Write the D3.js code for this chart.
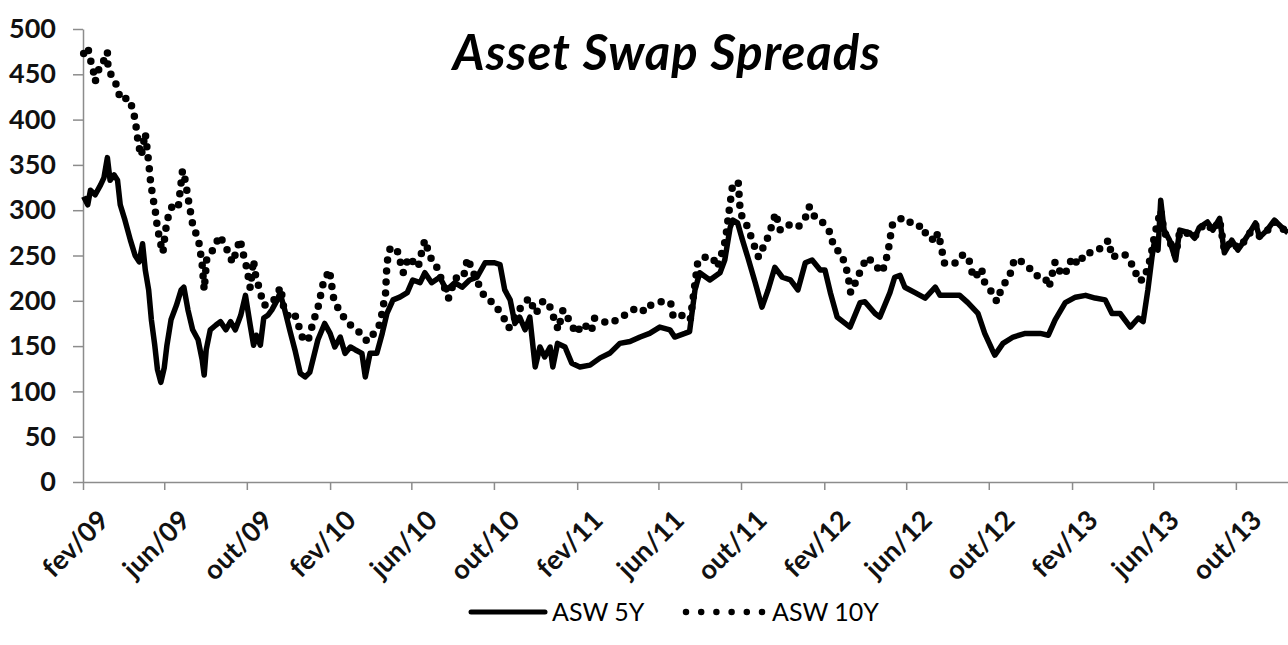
<!DOCTYPE html>
<html>
<head>
<meta charset="utf-8">
<script src="https://cdn.jsdelivr.net/npm/d3@7.9.0/dist/d3.min.js"></script>
<style>
  body { margin: 0; background: #fff; }
  svg { display: block; }
  .axis path, .axis line { stroke: #8c8c8c; stroke-width: 1.5; }
  .axis text { font-family: Lato, "Open Sans", sans-serif; font-weight: bold; fill: #111; }
</style>
</head>
<body>
<svg width="1288" height="645"></svg>
<script>
// ASW 5Y (solid line)
const asw5Dates = [
  "2009-02-02","2009-02-08","2009-02-12","2009-02-19","2009-02-27","2009-03-04","2009-03-09","2009-03-13",
  "2009-03-19","2009-03-24","2009-03-28","2009-04-04","2009-04-12","2009-04-19","2009-04-25","2009-04-30",
  "2009-05-04","2009-05-09","2009-05-13","2009-05-18","2009-05-22","2009-05-27","2009-06-01","2009-06-05",
  "2009-06-11","2009-06-19","2009-06-26","2009-06-30","2009-07-06","2009-07-13","2009-07-21","2009-07-27",
  "2009-07-30","2009-08-02","2009-08-08","2009-08-16","2009-08-23","2009-08-31","2009-09-07","2009-09-14",
  "2009-09-22","2009-09-29","2009-10-06","2009-10-11","2009-10-15","2009-10-21","2009-10-26","2009-11-01",
  "2009-11-07","2009-11-15","2009-11-19","2009-11-26","2009-12-04","2009-12-11","2009-12-19","2009-12-26",
  "2010-01-02","2010-01-14","2010-01-24","2010-02-01","2010-02-08","2010-02-16","2010-02-23","2010-03-03",
  "2010-03-10","2010-03-20","2010-03-25","2010-04-01","2010-04-11","2010-04-19","2010-04-26","2010-05-05",
  "2010-05-15","2010-05-26","2010-06-03","2010-06-14","2010-06-21","2010-07-01","2010-07-13","2010-07-23",
  "2010-08-04","2010-08-15","2010-08-26","2010-09-06","2010-09-18","2010-10-02","2010-10-10","2010-10-17",
  "2010-10-25","2010-11-01","2010-11-08","2010-11-16","2010-11-23","2010-12-01","2010-12-08","2010-12-15",
  "2010-12-23","2010-12-27","2011-01-03","2011-01-14","2011-01-24","2011-02-05","2011-02-20","2011-03-07",
  "2011-03-21","2011-04-05","2011-04-20","2011-05-05","2011-05-19","2011-06-03","2011-06-18","2011-06-25",
  "2011-07-10","2011-07-17","2011-07-25","2011-08-01","2011-08-16","2011-08-31","2011-09-07","2011-09-15",
  "2011-09-19","2011-09-26","2011-10-02","2011-10-11","2011-10-22","2011-11-01","2011-11-10","2011-11-20",
  "2011-12-01","2011-12-13","2011-12-24","2012-01-04","2012-01-14","2012-01-26","2012-02-02","2012-02-10",
  "2012-02-20","2012-03-10","2012-03-25","2012-04-01","2012-04-16","2012-04-23","2012-05-08","2012-05-15",
  "2012-05-23","2012-05-30","2012-06-14","2012-06-29","2012-07-14","2012-07-21","2012-08-04","2012-08-19",
  "2012-08-31","2012-09-15","2012-09-25","2012-10-06","2012-10-10","2012-10-22","2012-11-06","2012-11-24",
  "2012-12-16","2012-12-28","2013-01-07","2013-01-22","2013-02-06","2013-02-21","2013-03-07","2013-03-22",
  "2013-04-01","2013-04-13","2013-04-28","2013-05-10","2013-05-17","2013-05-24","2013-05-30","2013-06-03",
  "2013-06-08","2013-06-12","2013-06-17","2013-06-25","2013-07-04","2013-07-10","2013-07-25","2013-08-01",
  "2013-08-08","2013-08-20","2013-08-28","2013-09-07","2013-09-14","2013-09-25","2013-10-04","2013-10-14",
  "2013-10-21","2013-10-30","2013-11-05","2013-11-16","2013-11-27","2013-12-08","2013-12-17"
];
const asw5Values = [
  315,306,322,317,328,336,358,333,
  339,333,306,289,267,250,243,263,
  234,212,179,151,124,110,126,151,
  179,195,212,215,190,168,157,135,
  118,146,168,173,177,168,177,168,
  184,206,173,151,162,151,181,184,
  190,201,209,190,166,146,120,116,
  121,157,175,164,149,160,142,149,
  146,142,116,142,142,164,186,201,
  204,209,223,220,231,220,226,212,
  220,215,223,226,242,242,240,212,
  201,175,182,168,182,127,149,138,
  149,127,153,149,131,127,129,137,
  142,153,155,160,164,171,168,160,
  164,166,212,231,223,231,245,281,
  289,286,270,248,220,193,212,237,
  226,223,212,242,245,234,234,209,
  182,171,198,199,186,182,209,226,
  228,215,209,203,215,206,206,206,
  198,186,164,146,140,153,160,164,
  164,162,179,198,204,206,203,201,
  186,186,171,181,177,212,248,267,
  256,311,278,267,245,278,275,269,
  281,287,278,291,253,267,256,267,
  275,286,270,278,289,281,275
];

// ASW 10Y (dotted line)
const asw10Dates = [
  "2009-02-02","2009-02-08","2009-02-12","2009-02-16","2009-02-19","2009-02-27","2009-03-03","2009-03-09",
  "2009-03-10","2009-03-16","2009-03-24","2009-03-28","2009-04-09","2009-04-15","2009-04-19","2009-04-24",
  "2009-04-28","2009-05-04","2009-05-09","2009-05-12","2009-05-16","2009-05-19","2009-05-22","2009-05-27",
  "2009-05-30","2009-06-03","2009-06-08","2009-06-15","2009-06-22","2009-06-28","2009-07-02","2009-07-07",
  "2009-07-14","2009-07-21","2009-07-24","2009-07-27","2009-07-30","2009-08-03","2009-08-12","2009-08-22",
  "2009-09-02","2009-09-10","2009-09-21","2009-09-25","2009-10-01","2009-10-06","2009-10-11","2009-10-13",
  "2009-10-21","2009-10-26","2009-11-08","2009-11-20","2009-11-25","2009-12-05","2009-12-12","2009-12-22",
  "2009-12-30","2010-01-08","2010-01-14","2010-01-22","2010-01-31","2010-02-07","2010-02-18","2010-02-25",
  "2010-03-07","2010-03-18","2010-03-28","2010-04-09","2010-04-16","2010-04-24","2010-04-26","2010-05-01",
  "2010-05-11","2010-05-20","2010-05-28","2010-06-11","2010-06-17","2010-06-21","2010-06-29","2010-07-06",
  "2010-07-26","2010-08-05","2010-08-17","2010-08-23","2010-09-04","2010-09-18","2010-09-30","2010-10-15",
  "2010-10-23","2010-11-07","2010-11-22","2010-12-02","2010-12-12","2010-12-20","2010-12-28","2011-01-04",
  "2011-01-11","2011-01-23","2011-01-30","2011-02-10","2011-02-22","2011-02-26","2011-03-07","2011-03-18",
  "2011-04-02","2011-04-16","2011-05-01","2011-05-13","2011-05-20","2011-06-04","2011-06-19","2011-06-23",
  "2011-07-08","2011-07-18","2011-07-29","2011-08-06","2011-08-20","2011-08-27","2011-09-04","2011-09-08",
  "2011-09-13","2011-09-19","2011-09-27","2011-09-30","2011-10-11","2011-10-19","2011-10-27","2011-11-09",
  "2011-11-17","2011-11-21","2011-11-28","2011-12-09","2011-12-24","2012-01-07","2012-01-10","2012-01-19",
  "2012-01-29","2012-02-10","2012-02-15","2012-02-25","2012-03-04","2012-03-08","2012-03-11","2012-03-18",
  "2012-03-26","2012-04-04","2012-04-14","2012-04-25","2012-04-29","2012-05-05","2012-05-08","2012-05-12",
  "2012-05-20","2012-05-28","2012-06-08","2012-06-20","2012-06-23","2012-07-05","2012-07-12","2012-07-18",
  "2012-07-23","2012-07-27","2012-08-04","2012-08-14","2012-08-24","2012-09-01","2012-09-05","2012-09-10",
  "2012-09-20","2012-09-25","2012-10-05","2012-10-13","2012-10-20","2012-11-01","2012-11-08","2012-11-19",
  "2012-11-29","2012-12-08","2012-12-23","2012-12-29","2013-01-07","2013-01-17","2013-01-28","2013-01-31",
  "2013-02-11","2013-02-20","2013-03-05","2013-03-17","2013-03-27","2013-04-01","2013-04-11","2013-04-20",
  "2013-04-28","2013-05-05","2013-05-08","2013-05-18","2013-05-26","2013-05-30","2013-06-03","2013-06-12",
  "2013-06-17","2013-06-25","2013-07-04","2013-07-10","2013-07-25","2013-08-01","2013-08-08","2013-08-20",
  "2013-08-28","2013-09-07","2013-09-14","2013-09-25","2013-10-04","2013-10-14","2013-10-21","2013-10-30",
  "2013-11-05","2013-11-16","2013-11-27","2013-12-08","2013-12-17"
];
const asw10Values = [
  473,480,466,455,442,462,464,475,
  457,447,436,422,424,413,400,372,
  360,385,353,330,311,298,280,262,
  253,278,297,308,305,344,333,310,
  280,270,256,240,212,248,256,272,
  256,242,268,254,236,214,245,231,
  209,195,198,215,190,179,183,160,
  155,179,192,220,234,199,186,177,
  171,164,155,166,175,209,242,259,
  256,231,248,237,256,267,248,242,
  203,225,226,247,225,203,198,182,
  170,190,203,186,199,199,182,168,
  190,175,164,175,166,181,179,175,
  179,186,193,188,195,199,198,182,
  184,179,242,248,248,237,256,267,
  297,330,330,297,281,264,248,269,
  286,297,278,284,281,295,304,291,
  287,275,259,253,238,223,209,220,
  234,248,242,231,237,253,268,285,
  289,292,286,284,275,275,265,275,
  259,242,240,242,251,248,234,225,
  236,220,210,199,214,228,246,243,
  237,228,226,215,243,228,236,248,
  240,253,253,259,267,248,251,251,
  242,237,223,223,242,256,273,300,
  276,266,250,276,274,270,280,285,
  277,289,256,266,258,266,274,284,
  271,277,287,280,276
];

const yTicks = [0, 50, 100, 150, 200, 250, 300, 350, 400, 450, 500];
const xTickDates = [
  "2009-02-01","2009-06-01","2009-10-01","2010-02-01","2010-06-01","2010-10-01","2011-02-01","2011-06-01",
  "2011-10-01","2012-02-01","2012-06-01","2012-10-01","2013-02-01","2013-06-01","2013-10-01"
];
const xTickLabels = [
  "fev/09","jun/09","out/09","fev/10","jun/10","out/10","fev/11","jun/11",
  "out/11","fev/12","jun/12","out/12","fev/13","jun/13","out/13"
];
const seriesNames = ["ASW 5Y", "ASW 10Y"];

const parse = d3.utcParse("%Y-%m-%d");
const svg = d3.select("svg");

const x = d3.scaleUtc()
  .domain([parse("2009-02-01"), parse("2013-12-17")])
  .range([83, 1288]);
const y = d3.scaleLinear().domain([0, 500]).range([482, 29]);

// axes
const yAxis = svg.append("g")
  .attr("class", "axis")
  .attr("transform", "translate(83,0)")
  .call(d3.axisLeft(y).tickValues(yTicks).tickSize(10).tickPadding(17).tickSizeOuter(0));
yAxis.selectAll("text").style("font-size", "27px");

const xAxis = svg.append("g")
  .attr("class", "axis")
  .attr("transform", "translate(0,482)")
  .call(d3.axisBottom(x)
    .tickValues(xTickDates.map(parse))
    .tickSize(8)
    .tickSizeOuter(0)
    .tickFormat((d, i) => xTickLabels[i]));
xAxis.selectAll("text")
  .style("font-size", "27px")
  .attr("text-anchor", "end")
  .attr("x", 0).attr("y", 0).attr("dy", 0)
  .attr("transform", "translate(27,40) rotate(-45)");

// lines
const line = d3.line()
  .x(d => x(d[0]))
  .y(d => y(d[1]));

const data5 = asw5Dates.map((d, i) => [parse(d), asw5Values[i]]);
const data10 = asw10Dates.map((d, i) => [parse(d), asw10Values[i]]);

svg.append("path")
  .datum(data10)
  .attr("fill", "none")
  .attr("stroke", "#000")
  .attr("stroke-width", 7.5)
  .attr("stroke-linecap", "round")
  .attr("stroke-dasharray", "0,11")
  .attr("d", line);

svg.append("path")
  .datum(data5)
  .attr("fill", "none")
  .attr("stroke", "#000")
  .attr("stroke-width", 5.5)
  .attr("stroke-linejoin", "round")
  .attr("d", line);

// title
svg.append("text")
  .attr("x", 667)
  .attr("y", 70)
  .attr("text-anchor", "middle")
  .style("font-family", "Lato, 'Open Sans', sans-serif")
  .style("font-weight", "bold")
  .style("font-style", "italic")
  .style("font-size", "49px")
  .style("letter-spacing", "1px")
  .text("Asset Swap Spreads");

// legend
const legend = svg.append("g").attr("transform", "translate(0,612)");
legend.append("line")
  .attr("x1", 471).attr("x2", 545).attr("y1", 0).attr("y2", 0)
  .attr("stroke", "#000").attr("stroke-width", 5).attr("stroke-linecap", "round");
legend.append("text")
  .attr("x", 552).attr("y", 9)
  .style("font-family", "Lato, 'Open Sans', sans-serif")
  .style("font-size", "25px")
  .text(seriesNames[0]);
legend.append("line")
  .attr("x1", 686).attr("x2", 762).attr("y1", 0).attr("y2", 0)
  .attr("stroke", "#000").attr("stroke-width", 6.5)
  .attr("stroke-linecap", "round").attr("stroke-dasharray", "0,15.2");
legend.append("text")
  .attr("x", 772).attr("y", 9)
  .style("font-family", "Lato, 'Open Sans', sans-serif")
  .style("font-size", "25px")
  .text(seriesNames[1]);
</script>
</body>
</html>
